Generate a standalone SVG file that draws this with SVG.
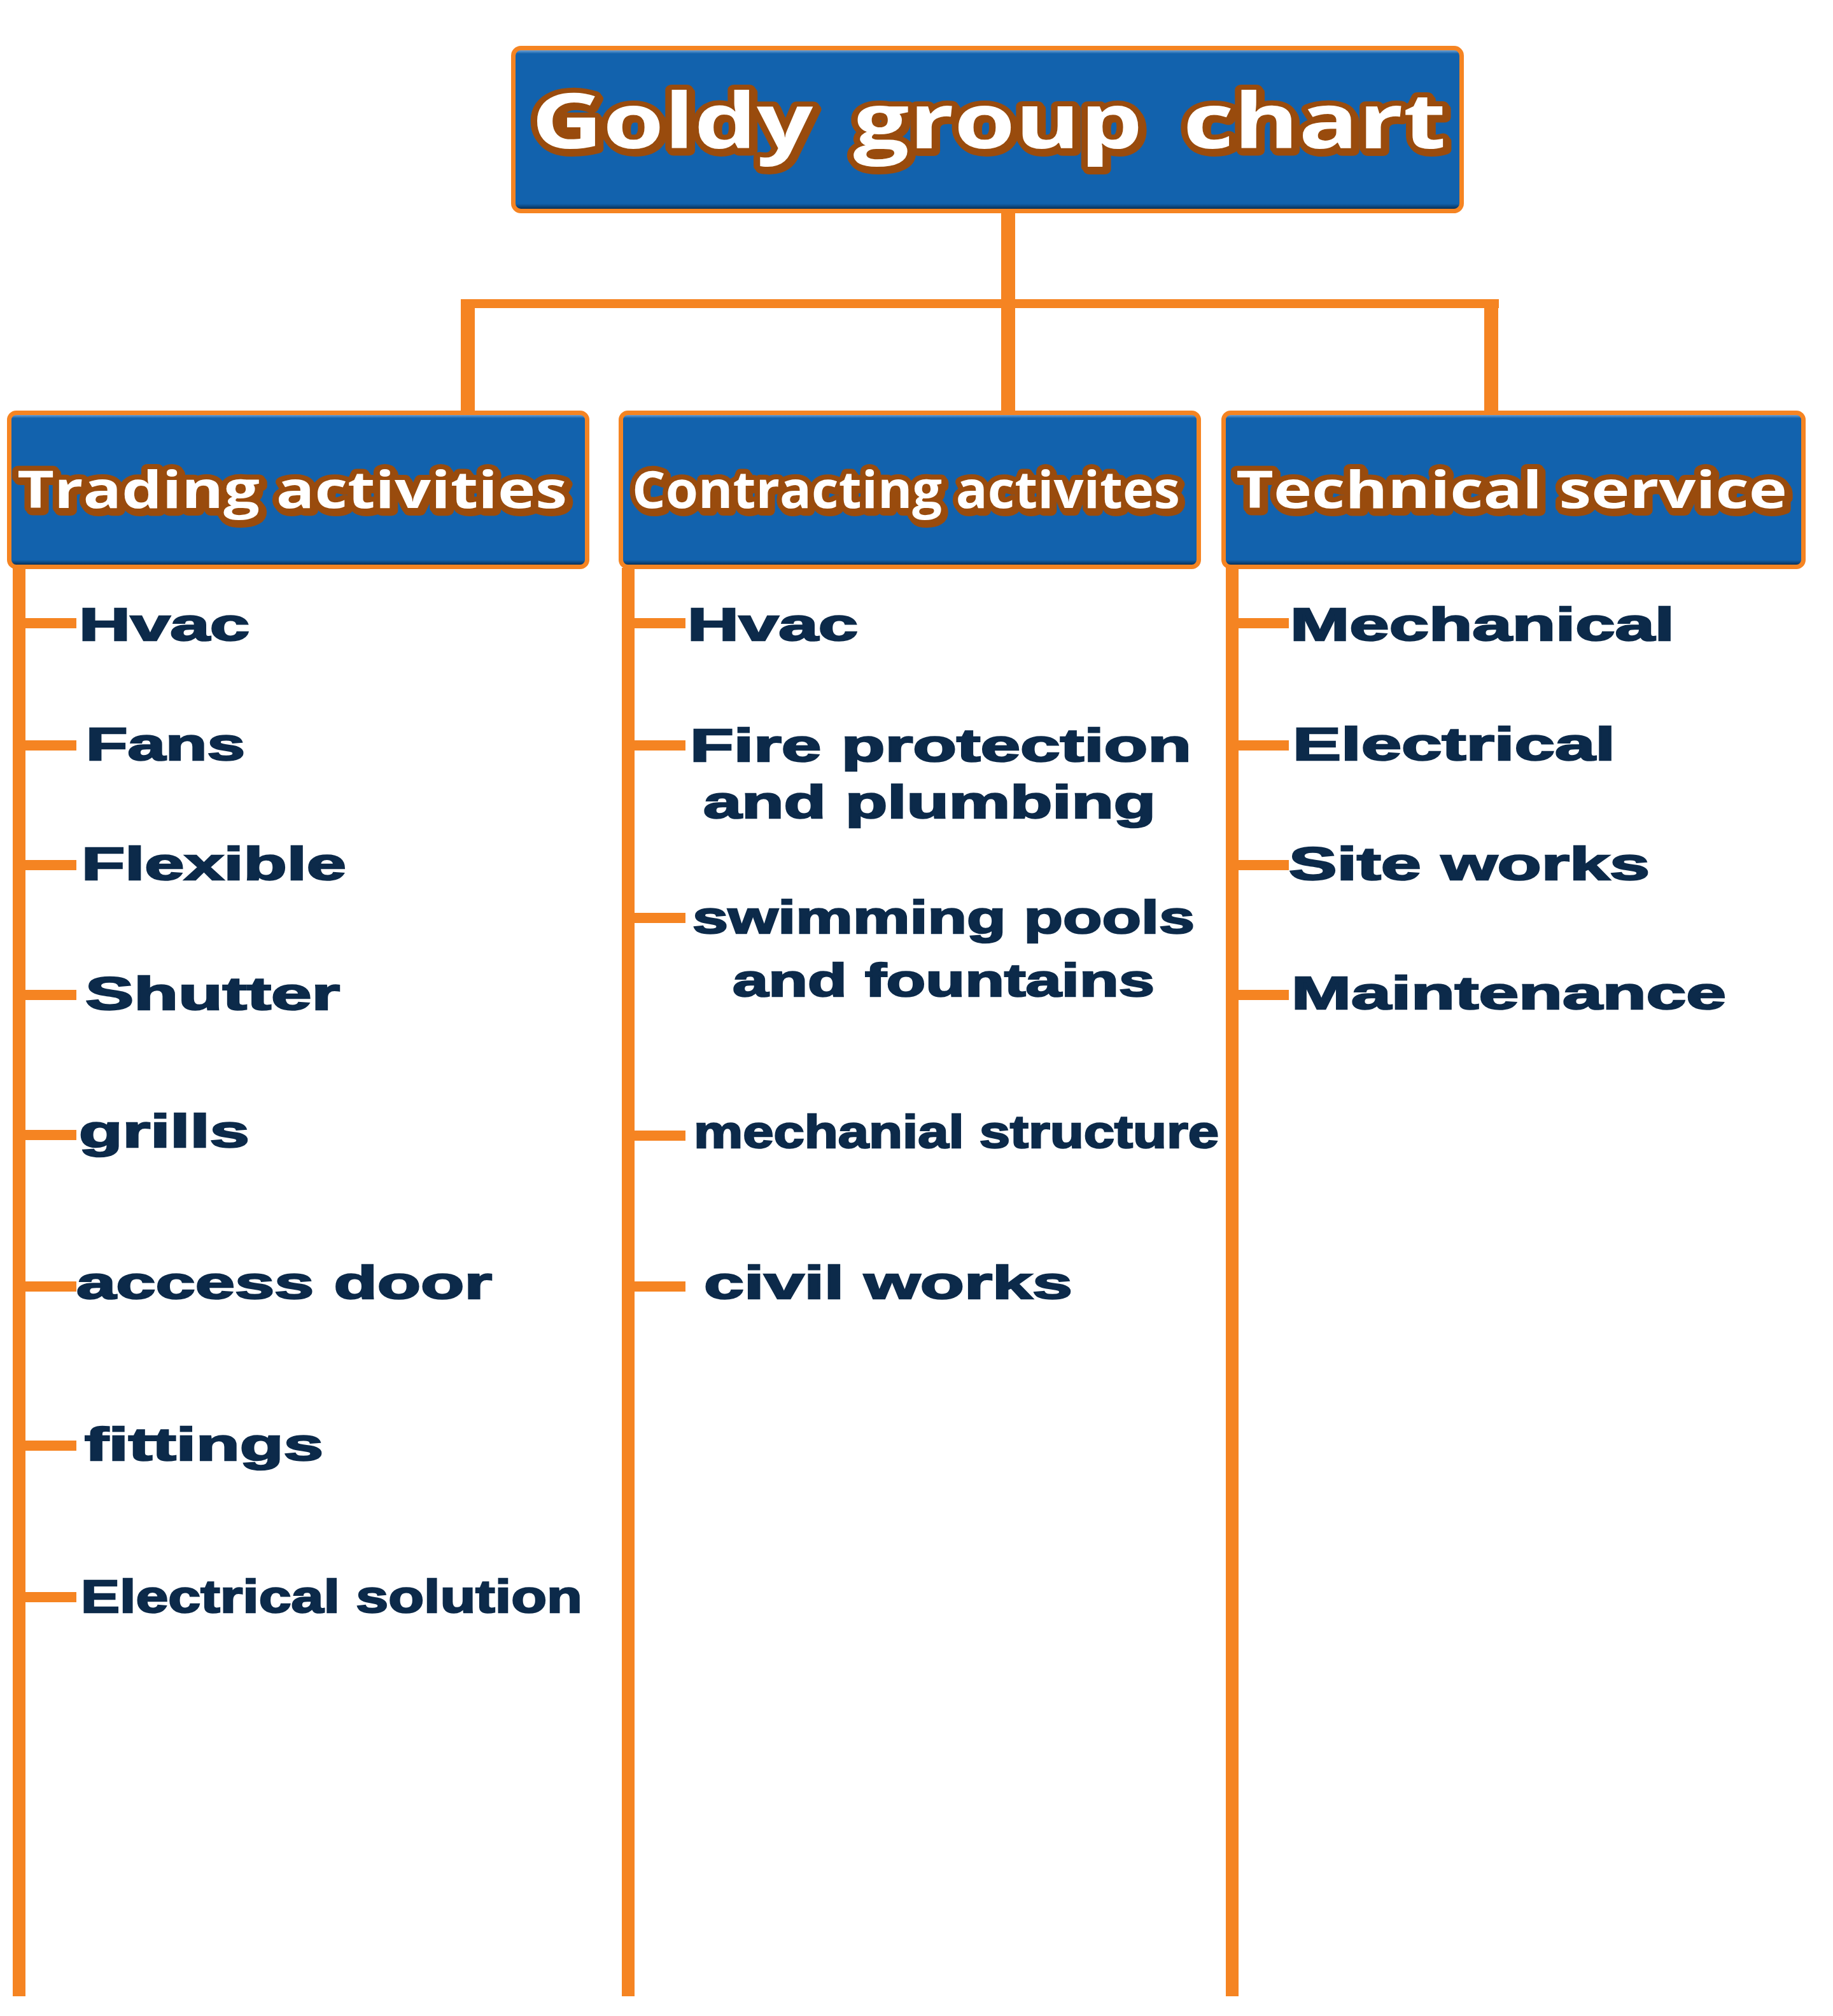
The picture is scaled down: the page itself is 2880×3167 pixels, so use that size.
<svg xmlns="http://www.w3.org/2000/svg" width="2880" height="3167" viewBox="0 0 2880 3167">
  <defs>
    <linearGradient id="bevel" x1="0" y1="0" x2="0" y2="1">
      <stop offset="0" stop-color="#A9C8EA"/>
      <stop offset="0.035" stop-color="#1262AD"/>
      <stop offset="0.955" stop-color="#1262AD"/>
      <stop offset="0.98" stop-color="#0B3A68"/>
      <stop offset="1" stop-color="#0A1826"/>
    </linearGradient>
    <filter id="sh" x="-5%" y="-20%" width="110%" height="150%">
      <feDropShadow dx="3" dy="4" stdDeviation="0" flood-color="#994C0C" flood-opacity="1"/>
    </filter>
  </defs>
  <style>
    .conn { stroke:#F58422; fill:none; stroke-linecap:butt; }
    .box { stroke:#F58422; stroke-width:7; fill:url(#bevel); }
    .head { font-family:"Open Sans","DejaVu Sans",sans-serif; font-weight:700; fill:#FFFFFF; stroke:#994C0C; stroke-width:16; stroke-linejoin:round; paint-order:stroke; filter:url(#sh); }
    .item { font-family:"Liberation Sans",Arial,sans-serif; font-weight:700; font-size:72px; fill:#0C2A4A; stroke:#0C2A4A; stroke-width:2.5; stroke-linejoin:miter; }
  </style>
  <rect x="0" y="0" width="2880" height="3167" fill="#FFFFFF"/>

  <g id="connectors">
    <line class="conn" x1="1584" y1="333" x2="1584" y2="648" stroke-width="22"/>
    <line class="conn" x1="724" y1="477" x2="2355" y2="477" stroke-width="14"/>
    <line class="conn" x1="735" y1="470" x2="735" y2="648" stroke-width="22"/>
    <line class="conn" x1="2343" y1="477" x2="2343" y2="648" stroke-width="22"/>
    <line class="conn" x1="30" y1="892" x2="30" y2="3136" stroke-width="20"/>
    <line class="conn" x1="987" y1="892" x2="987" y2="3136" stroke-width="20"/>
    <line class="conn" x1="1936" y1="892" x2="1936" y2="3136" stroke-width="20"/>
    <g stroke-width="16">
      <line class="conn" x1="38" y1="979" x2="120" y2="979"/>
      <line class="conn" x1="38" y1="1171" x2="120" y2="1171"/>
      <line class="conn" x1="38" y1="1359" x2="120" y2="1359"/>
      <line class="conn" x1="38" y1="1563" x2="120" y2="1563"/>
      <line class="conn" x1="38" y1="1783" x2="120" y2="1783"/>
      <line class="conn" x1="38" y1="2021" x2="120" y2="2021"/>
      <line class="conn" x1="38" y1="2271" x2="120" y2="2271"/>
      <line class="conn" x1="38" y1="2509" x2="120" y2="2509"/>
      <line class="conn" x1="995" y1="979" x2="1077" y2="979"/>
      <line class="conn" x1="995" y1="1171" x2="1077" y2="1171"/>
      <line class="conn" x1="995" y1="1442" x2="1077" y2="1442"/>
      <line class="conn" x1="995" y1="1784" x2="1077" y2="1784"/>
      <line class="conn" x1="995" y1="2021" x2="1077" y2="2021"/>
      <line class="conn" x1="1944" y1="979" x2="2025" y2="979"/>
      <line class="conn" x1="1944" y1="1171" x2="2025" y2="1171"/>
      <line class="conn" x1="1944" y1="1359" x2="2025" y2="1359"/>
      <line class="conn" x1="1944" y1="1563" x2="2025" y2="1563"/>
    </g>
  </g>

  <g id="node-root">
    <rect class="box" x="806.5" y="75.5" width="1490" height="256" rx="12"/>
    <text class="head" x="835" y="233" font-size="120" word-spacing="18" textLength="1437" lengthAdjust="spacingAndGlyphs">Goldy group chart</text>
  </g>

  <g id="node-trading">
    <rect class="box" x="14.5" y="648.5" width="908" height="242" rx="11"/>
    <text class="head" x="27" y="798" font-size="80" textLength="864" lengthAdjust="spacingAndGlyphs">Trading activities</text>
  </g>
  <g id="node-contracting">
    <rect class="box" x="975.5" y="648.5" width="908" height="242" rx="11"/>
    <text class="head" x="993" y="798" font-size="80" textLength="861" lengthAdjust="spacingAndGlyphs">Contracting activites</text>
  </g>
  <g id="node-technical">
    <rect class="box" x="1922.5" y="648.5" width="911" height="242" rx="11"/>
    <text class="head" x="1942" y="798" font-size="80" textLength="866" lengthAdjust="spacingAndGlyphs">Technical service</text>
  </g>

  <g id="items-trading">
    <text class="item" x="124" y="1006" textLength="268" lengthAdjust="spacingAndGlyphs">Hvac</text>
    <text class="item" x="135" y="1194" textLength="250" lengthAdjust="spacingAndGlyphs">Fans</text>
    <text class="item" x="128" y="1382" textLength="416" lengthAdjust="spacingAndGlyphs">Flexible</text>
    <text class="item" x="134" y="1586" textLength="400" lengthAdjust="spacingAndGlyphs">Shutter</text>
    <text class="item" x="124" y="1802" textLength="268" lengthAdjust="spacingAndGlyphs">grills</text>
    <text class="item" x="120" y="2040" textLength="653" lengthAdjust="spacingAndGlyphs">access door</text>
    <text class="item" x="133" y="2294" textLength="375" lengthAdjust="spacingAndGlyphs">fittings</text>
    <text class="item" x="127" y="2533" textLength="788" lengthAdjust="spacingAndGlyphs">Electrical solution</text>
  </g>

  <g id="items-contracting">
    <text class="item" x="1080" y="1006" textLength="268" lengthAdjust="spacingAndGlyphs">Hvac</text>
    <text class="item" x="1084" y="1196" textLength="788" lengthAdjust="spacingAndGlyphs">Fire protection</text>
    <text class="item" x="1105" y="1285" textLength="711" lengthAdjust="spacingAndGlyphs">and plumbing</text>
    <text class="item" x="1088" y="1466" textLength="789" lengthAdjust="spacingAndGlyphs">swimming pools</text>
    <text class="item" x="1151" y="1565" textLength="663" lengthAdjust="spacingAndGlyphs">and fountains</text>
    <text class="item" x="1090" y="1803" font-size="68" textLength="825" lengthAdjust="spacingAndGlyphs">mechanial structure</text>
    <text class="item" x="1106" y="2040" textLength="579" lengthAdjust="spacingAndGlyphs">civil works</text>
  </g>

  <g id="items-technical">
    <text class="item" x="2027" y="1006" textLength="604" lengthAdjust="spacingAndGlyphs">Mechanical</text>
    <text class="item" x="2031" y="1194" textLength="507" lengthAdjust="spacingAndGlyphs">Electrical</text>
    <text class="item" x="2025" y="1382" textLength="567" lengthAdjust="spacingAndGlyphs">Site works</text>
    <text class="item" x="2029" y="1585" textLength="683" lengthAdjust="spacingAndGlyphs">Maintenance</text>
  </g>
</svg>
